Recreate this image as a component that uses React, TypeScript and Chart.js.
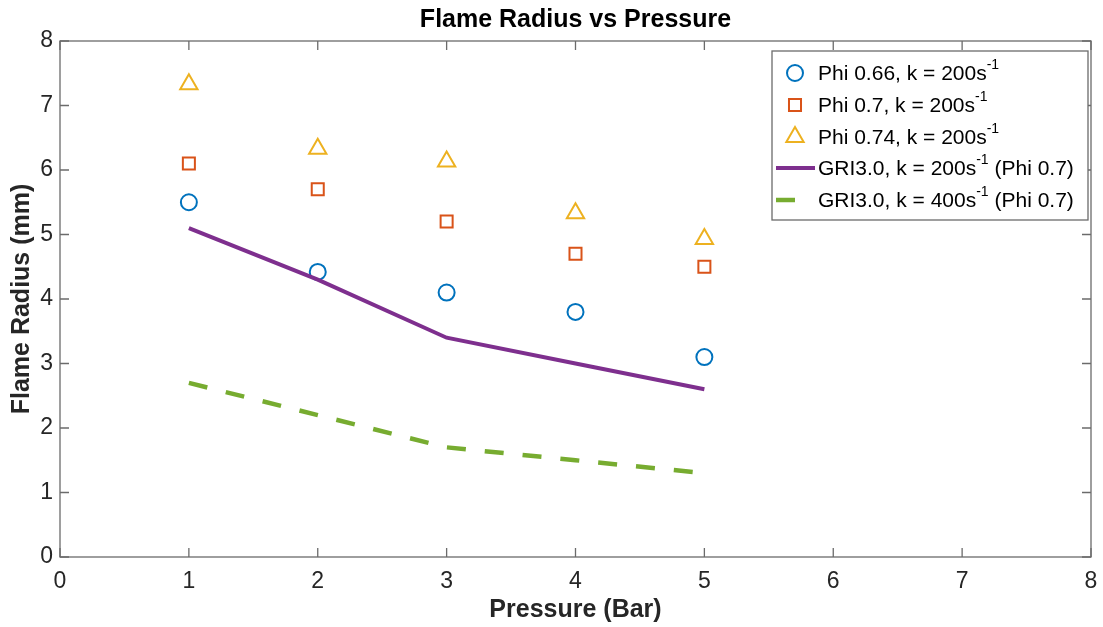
import React, { useEffect, useRef } from "react";
import { Chart, registerables } from "chart.js";

Chart.register(...registerables);

const pressures = [1, 2, 3, 4, 5];
const phi066 = [5.5, 4.42, 4.1, 3.8, 3.1];
const phi070 = [6.1, 5.7, 5.2, 4.7, 4.5];
const phi074 = [7.33, 6.33, 6.13, 5.33, 4.93];
const gri200 = [5.1, 4.3, 3.4, 3.0, 2.6];
const gri400 = [2.7, 2.2, 1.7, 1.5, 1.3];

const xTicks = [0, 1, 2, 3, 4, 5, 6, 7, 8];
const yTicks = [0, 1, 2, 3, 4, 5, 6, 7, 8];

const titleText = "Flame Radius vs Pressure";
const xTitle = "Pressure (Bar)";
const yTitle = "Flame Radius (mm)";

const legendMain = [
  "Phi 0.66, k = 200s",
  "Phi 0.7, k = 200s",
  "Phi 0.74, k = 200s",
  "GRI3.0, k = 200s",
  "GRI3.0, k = 400s",
];
const legendSup = ["-1", "-1", "-1", "-1", "-1"];
const legendTail = ["", "", "", " (Phi 0.7)", " (Phi 0.7)"];

const BLUE = "#0072BD";
const ORANGE = "#D95319";
const YELLOW = "#EDB120";
const PURPLE = "#7E2F8E";
const GREEN = "#77AC30";
const FONT = '"Liberation Sans", Arial, Helvetica, sans-serif';

function drawMarker(ctx: CanvasRenderingContext2D, style: string, x: number, y: number, r: number, color: string) {
  ctx.save();
  ctx.strokeStyle = color;
  ctx.lineWidth = 2;
  ctx.beginPath();
  if (style === "circle") {
    ctx.arc(x, y, r, 0, Math.PI * 2);
  } else if (style === "rect") {
    const s = r * Math.SQRT1_2;
    ctx.rect(x - s, y - s, 2 * s, 2 * s);
  } else {
    const h = r;
    ctx.moveTo(x, y - h);
    ctx.lineTo(x + h * Math.sin(Math.PI / 3) * 1, y + h * 0.5);
    ctx.lineTo(x - h * Math.sin(Math.PI / 3) * 1, y + h * 0.5);
    ctx.closePath();
  }
  ctx.stroke();
  ctx.restore();
}

const decorPlugin = {
  id: "decor",
  afterDraw(chart: any) {
    const ctx: CanvasRenderingContext2D = chart.ctx;
    const { left, right, top, bottom } = chart.chartArea;
    const xs = chart.scales.x;
    const ys = chart.scales.y;
    ctx.save();
    // box
    ctx.strokeStyle = "#6b6b6b";
    ctx.lineWidth = 1.3;
    ctx.strokeRect(left, top, right - left, bottom - top);
    // ticks
    const tl = 9;
    ctx.beginPath();
    xTicks.forEach((v) => {
      const px = xs.getPixelForValue(v);
      ctx.moveTo(px, bottom);
      ctx.lineTo(px, bottom - tl);
      ctx.moveTo(px, top);
      ctx.lineTo(px, top + tl);
    });
    yTicks.forEach((v) => {
      const py = ys.getPixelForValue(v);
      ctx.moveTo(left, py);
      ctx.lineTo(left + tl, py);
      ctx.moveTo(right, py);
      ctx.lineTo(right - tl, py);
    });
    ctx.stroke();
    // tick labels
    ctx.fillStyle = "#262626";
    ctx.font = `23px ${FONT}`;
    ctx.textAlign = "center";
    ctx.textBaseline = "middle";
    xTicks.forEach((v) => {
      ctx.fillText(String(v), xs.getPixelForValue(v), bottom + 25);
    });
    ctx.textAlign = "right";
    yTicks.forEach((v) => {
      ctx.fillText(String(v), left - 7, ys.getPixelForValue(v));
    });
    // titles
    ctx.fillStyle = "#000";
    ctx.font = `bold 25px ${FONT}`;
    ctx.textAlign = "center";
    ctx.fillText(titleText, (left + right) / 2, 20);
    ctx.fillStyle = "#262626";
    ctx.fillText(xTitle, (left + right) / 2, 610);
    ctx.save();
    ctx.translate(22, (top + bottom) / 2);
    ctx.rotate(-Math.PI / 2);
    ctx.fillText(yTitle, 0, 0);
    ctx.restore();

    // legend
    const lx = 772, ly = 51, lw = 316, lh = 169;
    ctx.fillStyle = "#fff";
    ctx.fillRect(lx, ly, lw, lh);
    ctx.strokeStyle = "#6b6b6b";
    ctx.lineWidth = 1.3;
    ctx.strokeRect(lx, ly, lw, lh);
    const rows = [73, 105, 137, 168, 200];
    const markers = [
      { s: "circle", c: BLUE, r: 8 },
      { s: "rect", c: ORANGE, r: 8.5 },
      { s: "triangle", c: YELLOW, r: 10 },
    ];
    rows.forEach((ry, i) => {
      if (i < 3) {
        drawMarker(ctx, markers[i].s, 795, ry, markers[i].r, markers[i].c);
      } else if (i === 3) {
        ctx.strokeStyle = PURPLE;
        ctx.lineWidth = 4;
        ctx.beginPath();
        ctx.moveTo(776, ry);
        ctx.lineTo(815, ry);
        ctx.stroke();
      } else {
        ctx.strokeStyle = GREEN;
        ctx.lineWidth = 4.5;
        ctx.beginPath();
        ctx.moveTo(776, ry);
        ctx.lineTo(795, ry);
        ctx.stroke();
      }
      let tx = 818;
      ctx.fillStyle = "#000";
      ctx.textAlign = "left";
      ctx.textBaseline = "middle";
      ctx.font = `21px ${FONT}`;
      ctx.fillText(legendMain[i], tx, ry + 1);
      tx += ctx.measureText(legendMain[i]).width;
      ctx.font = `14px ${FONT}`;
      ctx.fillText(legendSup[i], tx, ry - 8);
      tx += ctx.measureText(legendSup[i]).width;
      ctx.font = `21px ${FONT}`;
      ctx.fillText(legendTail[i], tx, ry + 1);
    });
    ctx.restore();
  },
};

export default function App() {
  const ref = useRef<HTMLCanvasElement | null>(null);
  useEffect(() => {
    document.body.style.margin = "0";
    const toPts = (arr: number[]) => arr.map((y, i) => ({ x: pressures[i], y }));
    const chart = new Chart(ref.current as HTMLCanvasElement, {
      type: "scatter",
      data: {
        datasets: [
          {
            label: "GRI3.0, k = 200s-1 (Phi 0.7)",
            data: toPts(gri200),
            showLine: true,
            borderColor: PURPLE,
            borderWidth: 4,
            pointRadius: 0,
            fill: false,
          },
          {
            label: "GRI3.0, k = 400s-1 (Phi 0.7)",
            data: toPts(gri400),
            showLine: true,
            borderColor: GREEN,
            borderWidth: 4.5,
            borderDash: [19, 19],
            pointRadius: 0,
            fill: false,
          },
          {
            label: "Phi 0.66, k = 200s-1",
            data: toPts(phi066),
            pointStyle: "circle",
            pointRadius: 8,
            borderColor: BLUE,
            backgroundColor: "rgba(0,0,0,0)",
            borderWidth: 2,
          },
          {
            label: "Phi 0.7, k = 200s-1",
            data: toPts(phi070),
            pointStyle: "rect",
            pointRadius: 8.5,
            borderColor: ORANGE,
            backgroundColor: "rgba(0,0,0,0)",
            borderWidth: 2,
          },
          {
            label: "Phi 0.74, k = 200s-1",
            data: toPts(phi074),
            pointStyle: "triangle",
            pointRadius: 10,
            borderColor: YELLOW,
            backgroundColor: "rgba(0,0,0,0)",
            borderWidth: 2,
          },
        ],
      },
      options: {
        animation: false,
        responsive: false,
        maintainAspectRatio: false,
        layout: { padding: { top: 41, right: 11, left: 0, bottom: 0 } },
        plugins: { legend: { display: false }, title: { display: false }, tooltip: { enabled: false } },
        scales: {
          x: {
            type: "linear",
            min: 0,
            max: 8,
            ticks: { display: false, stepSize: 1 },
            grid: { display: false },
            border: { display: false },
            afterFit: (s: any) => { s.height = 70; },
          },
          y: {
            type: "linear",
            min: 0,
            max: 8,
            ticks: { display: false, stepSize: 1 },
            grid: { display: false },
            border: { display: false },
            afterFit: (s: any) => { s.width = 60; },
          },
        },
      },
      plugins: [decorPlugin],
    });
    return () => chart.destroy();
  }, []);
  return (
    <div style={{ position: "absolute", left: 0, top: 0, width: 1103, height: 627, background: "#fff" }}>
      <canvas ref={ref} width={1103} height={627} style={{ width: 1103, height: 627 }} />
    </div>
  );
}
